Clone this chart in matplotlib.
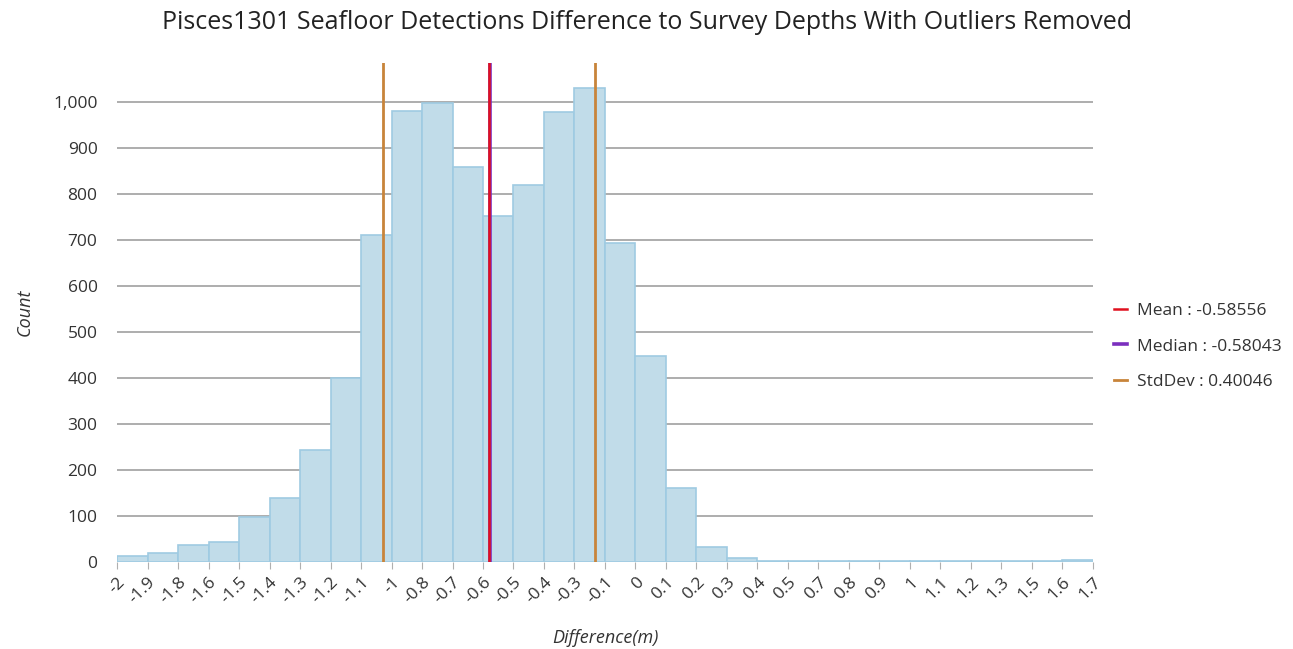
import numpy as np
import matplotlib
matplotlib.use("Agg")
import matplotlib.pyplot as plt
from matplotlib.ticker import FuncFormatter

plt.rcParams['font.family'] = ['Open Sans', 'DejaVu Sans']

# histogram bins (equal width) and counts per bin
BIN_START = -1.988
BIN_WIDTH = 0.115
counts = [13, 20, 37, 43, 98, 139, 243, 400, 711, 980, 998, 859,
          752, 819, 978, 1030, 693, 448, 161, 33, 8, 2, 2, 2,
          2, 2, 2, 3, 2, 3, 2, 4]

mean_val = -0.58556
median_val = -0.58043
std_val = 0.40046

edges = BIN_START + BIN_WIDTH * np.arange(len(counts) + 1)
edge_labels = ["{:g}".format(round(e, 1) + 0.0) for e in edges]

fig = plt.figure(figsize=(12.93, 6.49), dpi=100)
ax = fig.add_axes([0.0905, 0.134, 0.7548, 0.769])

ax.bar(edges[:-1], counts, width=BIN_WIDTH, align="edge",
       color="#c1dce9", edgecolor="#9fcbe2", linewidth=1.2, zorder=2)

ax.axvline(median_val, color="#7b2fbe", lw=2.6, zorder=3, label="Median : -0.58043")
ax.axvline(mean_val, color="#e0101e", lw=1.8, zorder=4, label="Mean : -0.58556")
ax.axvline(mean_val - std_val, color="#c8843a", lw=2, zorder=3,
           label="StdDev : 0.40046")
ax.axvline(mean_val + std_val, color="#c8843a", lw=2, zorder=3)

ax.set_xlim(edges[0], edges[-1])
ax.set_ylim(0, 1085)
ax.set_yticks(np.arange(0, 1001, 100))
ax.yaxis.set_major_formatter(FuncFormatter(lambda v, p: "{:,.0f}".format(v)))
ax.grid(axis="y", color="#a0a0a0", lw=1.2, zorder=1)
ax.set_xticks(edges)
ax.set_xticklabels(edge_labels, rotation=45, ha="right", rotation_mode="anchor")

for s in ax.spines.values():
    s.set_visible(False)
ax.tick_params(axis="y", length=0, pad=14, labelsize=12.5, labelcolor="#333333")
ax.tick_params(axis="x", length=5, color="#b0b0b0", pad=4, labelsize=12.5,
               labelcolor="#333333")

fig.text(0.5, 0.965, "Pisces1301 Seafloor Detections Difference to Survey Depths With Outliers Removed",
         fontsize=18, color="#222222", ha="center", va="center")
ax.set_xlabel("Difference(m)", style="italic", fontsize=13, color="#333333", labelpad=16)
ax.set_ylabel("Count", style="italic", fontsize=13, color="#333333", labelpad=14)

# keep legend order Mean, Median, StdDev
h, l = ax.get_legend_handles_labels()
order = [1, 0, 2]
ax.legend([h[i] for i in order], [l[i] for i in order],
          loc="center left", bbox_to_anchor=(1.006, 0.432), frameon=False,
          handlelength=0.7, handletextpad=0.6, labelspacing=1.1, fontsize=12.5,
          labelcolor="#333333")

fig.savefig("out.png", dpi=100)
